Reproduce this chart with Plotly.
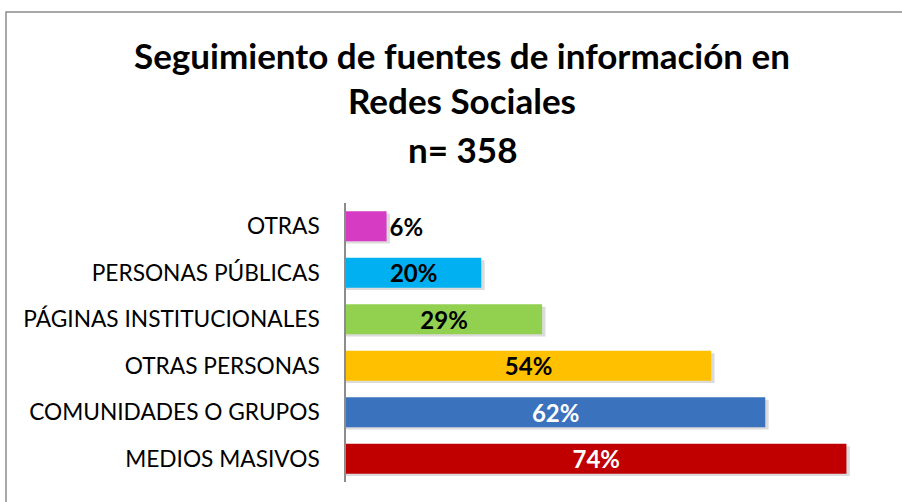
import plotly.graph_objects as go

# Data (bottom to top as drawn)
categories = ["MEDIOS MASIVOS", "COMUNIDADES O GRUPOS", "OTRAS PERSONAS",
              "PÁGINAS INSTITUCIONALES", "PERSONAS PÚBLICAS", "OTRAS"]
values = [74, 62, 54, 29, 20, 6]
labels = ["74%", "62%", "54%", "29%", "20%", "6%"]
colors = ["#C00000", "#3A72BE", "#FFC000", "#92D050", "#00B0F0", "#D63BC4"]
label_colors = ["white", "white", "black", "black", "black", "black"]
label_pos = ["inside", "inside", "inside", "inside", "inside", "outside"]
title_lines = ["Seguimiento de fuentes de información en", "Redes Sociales", "n= 358"]

FONT = "Lato"

fig = go.Figure()

# soft shadow
fig.add_trace(go.Bar(
    y=categories, x=[v + 0.5 for v in values], orientation="h",
    marker=dict(color="rgba(0,0,0,0.14)", line=dict(width=0)),
    offset=-0.37, width=0.64, hoverinfo="skip", showlegend=False,
))

fig.add_trace(go.Bar(
    y=categories, x=values, orientation="h",
    marker=dict(color=colors, line=dict(width=0)),
    text=["<b>%s</b>" % t for t in labels], textposition=label_pos,
    insidetextanchor="middle",
    textfont=dict(family=FONT, size=24, color=label_colors),
    outsidetextfont=dict(family=FONT, size=24, color="black"),
    constraintext="none", cliponaxis=False,
    offset=-0.32, width=0.64, showlegend=False,
))

W, H = 902, 502
L, R, T, B = 346, 15, 203, 20

fig.update_layout(
    width=W, height=H, autosize=False,
    margin=dict(l=L, r=R, t=T, b=B),
    paper_bgcolor="white", plot_bgcolor="white",
    barmode="overlay",
    xaxis=dict(range=[0, 80], visible=False, showgrid=False, zeroline=False),
    yaxis=dict(categoryorder="array", categoryarray=categories,
               showline=True, linecolor="#8C8C8C", linewidth=1.5,
               ticks="", showgrid=False, ticklabelstandoff=20,
               tickfont=dict(family=FONT, size=22.7, color="black")),
    font=dict(family=FONT),
)

pw, ph = W - L - R, H - T - B
def px(x):
    return (x - L) / pw
def py(y):
    return (H - B - y) / ph

# outer border
fig.add_shape(type="rect", xref="paper", yref="paper",
              x0=px(6), x1=px(910), y0=py(12), y1=py(510),
              line=dict(color="#8C8C8C", width=1.5), layer="below")

for line, yc in zip(title_lines, [55, 100, 149]):
    fig.add_annotation(text="<b>%s</b>" % line, xref="paper", yref="paper",
                       x=px(462), y=py(yc), xanchor="center", yanchor="middle",
                       showarrow=False, font=dict(family=FONT, size=35, color="black"))

fig.write_html("out.html", config={"displayModeBar": False},
               post_script="document.body.style.margin='0';")
